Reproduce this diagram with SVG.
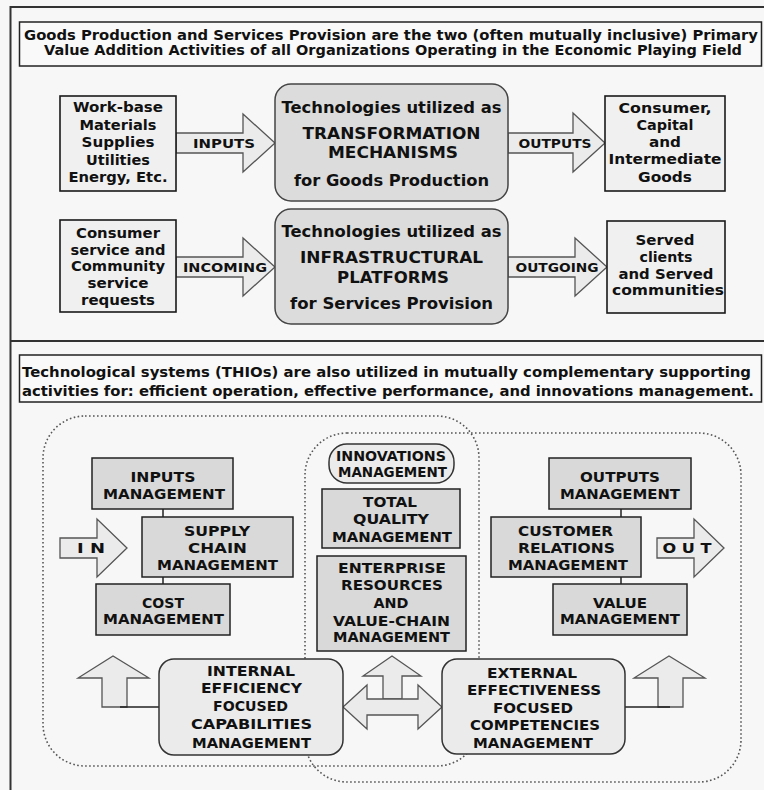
<svg xmlns="http://www.w3.org/2000/svg" width="764" height="790" viewBox="0 0 764 790">
<style>
.t{font-family:"DejaVu Sans",Verdana,sans-serif;font-weight:bold;fill:#111;text-anchor:middle}
.s12{font-size:12.5px}.s13{font-size:13.5px}.s14{font-size:14.5px}.s15{font-size:15.5px}.s16{font-size:16px}
.hdr{fill:#f9f9f9;stroke:#222;stroke-width:1.5}
.box{fill:#f0f0f0;stroke:#1a1a1a;stroke-width:1.6}
.tech{fill:#dcdcdc;stroke:#444;stroke-width:1.5}
.mg{fill:#d9d9d9;stroke:#222;stroke-width:1.5}
.rb{fill:#ebebeb;stroke:#333;stroke-width:1.5}
.arr{fill:#ebebeb;stroke:#555;stroke-width:1.3}
.dot{fill:none;stroke:#555;stroke-width:1.6;stroke-dasharray:1.6 2.4}
.ln{stroke:#222;stroke-width:1.5;fill:none}
</style>
<rect x="0" y="0" width="764" height="790" fill="#f7f7f7"/>
<rect x="10.5" y="7" width="800" height="820" fill="none" stroke="#333" stroke-width="2"/>
<line x1="10.5" y1="341" x2="764" y2="341" stroke="#333" stroke-width="2"/>

<g id="header1">
<rect class="hdr" x="19.5" y="22" width="742" height="44"/>
<text class="t s13" x="391" y="40" textLength="734" lengthAdjust="spacingAndGlyphs">Goods Production and Services Provision are the two (often mutually inclusive) Primary</text>
<text class="t s13" x="393" y="55" textLength="698" lengthAdjust="spacingAndGlyphs">Value Addition Activities of all Organizations Operating in the Economic Playing Field</text>
</g>

<g id="header2">
<rect class="hdr" x="19.5" y="355" width="742" height="47"/>
<text class="t s13" x="386.5" y="377" textLength="729" lengthAdjust="spacingAndGlyphs">Technological systems (THIOs) are also utilized in mutually complementary supporting</text>
<text class="t s13" x="388" y="396" textLength="732" lengthAdjust="spacingAndGlyphs">activities for: efficient operation, effective performance, and innovations management.</text>
</g>

<g id="dotted-regions">
<rect class="dot" x="43" y="416" width="436" height="350" rx="42"/>
<rect class="dot" x="305" y="433" width="436" height="349" rx="42"/>
</g>

<g id="connectors">
<polygon class="arr" points="176,133 243,133 243,114 275,143 243,172 243,153 176,153"/>
<polygon class="arr" points="508,133 573,133 573,113 605,143 573,172 573,153 508,153"/>
<polygon class="arr" points="176,257 243,257 243,238 275,267 243,296 243,277 176,277"/>
<polygon class="arr" points="508,257 575,257 575,238 607,267 575,296 575,277 508,277"/>
<polygon class="arr" points="60,538 97,538 97,519 127,548 97,577 97,558 60,558"/>
<polygon class="arr" points="657,538 694,538 694,519 724,548 694,577 694,558 657,558"/>
<polygon class="arr" points="102,707 102,678 78,678 113,656 149,678 127,678 127,707"/>
<polygon class="arr" points="658,707 658,678 634,678 669,656 705,678 683,678 683,707"/>
<polygon class="arr" points="383,699 383,676 363,676 392,656 421,676 402,676 402,699"/>
<polygon class="arr" points="343,707 367,685 367,699 418,699 418,685 442,707 418,729 418,715 367,715 367,729"/>
<line class="ln" x1="120" y1="707" x2="159" y2="707"/>
<line class="ln" x1="625" y1="707" x2="670" y2="707"/>
<line class="ln" x1="163" y1="509" x2="163" y2="517"/>
<line class="ln" x1="163" y1="577" x2="163" y2="584"/>
<line class="ln" x1="621" y1="509" x2="621" y2="517"/>
<line class="ln" x1="621" y1="577" x2="621" y2="584"/>
<text class="t s12" x="224" y="147.5" textLength="62" lengthAdjust="spacingAndGlyphs">INPUTS</text>
<text class="t s12" x="555" y="147.5" textLength="73" lengthAdjust="spacingAndGlyphs">OUTPUTS</text>
<text class="t s12" x="225" y="271.5" textLength="84" lengthAdjust="spacingAndGlyphs">INCOMING</text>
<text class="t s12" x="557" y="271.5" textLength="83" lengthAdjust="spacingAndGlyphs">OUTGOING</text>
<text class="t s14" x="91" y="553" textLength="28" lengthAdjust="spacingAndGlyphs">I N</text>
<text class="t s14" x="687" y="553" textLength="49" lengthAdjust="spacingAndGlyphs">O U T</text>
</g>

<g id="work-base">
<rect class="box" x="60" y="96" width="116" height="95"/>
<text class="t s14" x="118" y="112" textLength="90" lengthAdjust="spacingAndGlyphs">Work-base</text>
<text class="t s14" x="118" y="129.6" textLength="77" lengthAdjust="spacingAndGlyphs">Materials</text>
<text class="t s14" x="118" y="147.2" textLength="73" lengthAdjust="spacingAndGlyphs">Supplies</text>
<text class="t s14" x="118" y="164.8" textLength="64" lengthAdjust="spacingAndGlyphs">Utilities</text>
<text class="t s14" x="118" y="182.4" textLength="99" lengthAdjust="spacingAndGlyphs">Energy, Etc.</text>
</g>

<g id="transformation">
<rect class="tech" x="275" y="84" width="233" height="117" rx="16"/>
<text class="t s16" x="391.5" y="113" textLength="220" lengthAdjust="spacingAndGlyphs">Technologies utilized as</text>
<text class="t s15" x="391.5" y="139" textLength="178" lengthAdjust="spacingAndGlyphs">TRANSFORMATION</text>
<text class="t s15" x="393" y="158" textLength="130" lengthAdjust="spacingAndGlyphs">MECHANISMS</text>
<text class="t s16" x="391.5" y="186" textLength="195" lengthAdjust="spacingAndGlyphs">for Goods Production</text>
</g>

<g id="goods">
<rect class="box" x="605" y="96" width="120" height="95"/>
<text class="t s14" x="665" y="113" textLength="93" lengthAdjust="spacingAndGlyphs">Consumer,</text>
<text class="t s14" x="665" y="130" textLength="57" lengthAdjust="spacingAndGlyphs">Capital</text>
<text class="t s14" x="665" y="147" textLength="32" lengthAdjust="spacingAndGlyphs">and</text>
<text class="t s14" x="665" y="164" textLength="113" lengthAdjust="spacingAndGlyphs">Intermediate</text>
<text class="t s14" x="665" y="182" textLength="54" lengthAdjust="spacingAndGlyphs">Goods</text>
</g>

<g id="requests">
<rect class="box" x="60" y="220" width="116" height="92"/>
<text class="t s14" x="118" y="238" textLength="84" lengthAdjust="spacingAndGlyphs">Consumer</text>
<text class="t s14" x="118" y="254.5" textLength="95" lengthAdjust="spacingAndGlyphs">service and</text>
<text class="t s14" x="118" y="271" textLength="94" lengthAdjust="spacingAndGlyphs">Community</text>
<text class="t s14" x="118" y="288" textLength="61" lengthAdjust="spacingAndGlyphs">service</text>
<text class="t s14" x="118" y="305" textLength="74" lengthAdjust="spacingAndGlyphs">requests</text>
</g>

<g id="infrastructure">
<rect class="tech" x="275" y="209" width="233" height="115" rx="16"/>
<text class="t s16" x="391.5" y="237" textLength="220" lengthAdjust="spacingAndGlyphs">Technologies utilized as</text>
<text class="t s15" x="391.5" y="263" textLength="183" lengthAdjust="spacingAndGlyphs">INFRASTRUCTURAL</text>
<text class="t s15" x="393" y="283" textLength="112" lengthAdjust="spacingAndGlyphs">PLATFORMS</text>
<text class="t s16" x="391.5" y="309" textLength="203" lengthAdjust="spacingAndGlyphs">for Services Provision</text>
</g>

<g id="served">
<rect class="box" x="607" y="221" width="118" height="92"/>
<text class="t s14" x="665" y="245" textLength="59" lengthAdjust="spacingAndGlyphs">Served</text>
<text class="t s14" x="666" y="262" textLength="53" lengthAdjust="spacingAndGlyphs">clients</text>
<text class="t s14" x="666" y="278.5" textLength="95" lengthAdjust="spacingAndGlyphs">and Served</text>
<text class="t s14" x="668" y="295" textLength="112" lengthAdjust="spacingAndGlyphs">communities</text>
</g>

<g id="inputs-mgmt">
<rect class="mg" x="92" y="458" width="141" height="51"/>
<text class="t s14" x="163" y="482" textLength="65" lengthAdjust="spacingAndGlyphs">INPUTS</text>
<text class="t s14" x="164" y="499" textLength="122" lengthAdjust="spacingAndGlyphs">MANAGEMENT</text>
</g>
<g id="supply-chain">
<rect class="mg" x="142" y="517" width="151" height="60"/>
<text class="t s14" x="217" y="536" textLength="66" lengthAdjust="spacingAndGlyphs">SUPPLY</text>
<text class="t s14" x="217.5" y="553" textLength="59" lengthAdjust="spacingAndGlyphs">CHAIN</text>
<text class="t s14" x="217.5" y="569.5" textLength="121" lengthAdjust="spacingAndGlyphs">MANAGEMENT</text>
</g>
<g id="cost">
<rect class="mg" x="96" y="584" width="134" height="51"/>
<text class="t s14" x="163" y="608" textLength="42" lengthAdjust="spacingAndGlyphs">COST</text>
<text class="t s14" x="163.5" y="624" textLength="121" lengthAdjust="spacingAndGlyphs">MANAGEMENT</text>
</g>
<g id="innovations">
<rect class="rb" x="329" y="444" width="125" height="39" rx="18"/>
<text class="t s13" x="391" y="461" textLength="110" lengthAdjust="spacingAndGlyphs">INNOVATIONS</text>
<text class="t s13" x="392.5" y="476.5" textLength="109" lengthAdjust="spacingAndGlyphs">MANAGEMENT</text>
</g>
<g id="tqm">
<rect class="mg" x="322" y="489" width="138" height="59"/>
<text class="t s14" x="390" y="507" textLength="54" lengthAdjust="spacingAndGlyphs">TOTAL</text>
<text class="t s14" x="391" y="524" textLength="76" lengthAdjust="spacingAndGlyphs">QUALITY</text>
<text class="t s14" x="392" y="542" textLength="120" lengthAdjust="spacingAndGlyphs">MANAGEMENT</text>
</g>
<g id="erp">
<rect class="mg" x="317" y="556" width="149" height="95"/>
<text class="t s14" x="392" y="573" textLength="108" lengthAdjust="spacingAndGlyphs">ENTERPRISE</text>
<text class="t s14" x="392" y="590" textLength="102" lengthAdjust="spacingAndGlyphs">RESOURCES</text>
<text class="t s14" x="391" y="608" textLength="35" lengthAdjust="spacingAndGlyphs">AND</text>
<text class="t s14" x="391.5" y="626" textLength="117" lengthAdjust="spacingAndGlyphs">VALUE-CHAIN</text>
<text class="t s14" x="391.5" y="642" textLength="117" lengthAdjust="spacingAndGlyphs">MANAGEMENT</text>
</g>
<g id="outputs-mgmt">
<rect class="mg" x="549" y="458" width="142" height="51"/>
<text class="t s14" x="620" y="482" textLength="80" lengthAdjust="spacingAndGlyphs">OUTPUTS</text>
<text class="t s14" x="620" y="499" textLength="120" lengthAdjust="spacingAndGlyphs">MANAGEMENT</text>
</g>
<g id="crm">
<rect class="mg" x="491" y="517" width="150" height="60"/>
<text class="t s14" x="565.5" y="536" textLength="95" lengthAdjust="spacingAndGlyphs">CUSTOMER</text>
<text class="t s14" x="566.5" y="553" textLength="97" lengthAdjust="spacingAndGlyphs">RELATIONS</text>
<text class="t s14" x="568" y="569.5" textLength="120" lengthAdjust="spacingAndGlyphs">MANAGEMENT</text>
</g>
<g id="value">
<rect class="mg" x="553" y="584" width="134" height="51"/>
<text class="t s14" x="620" y="608" textLength="54" lengthAdjust="spacingAndGlyphs">VALUE</text>
<text class="t s14" x="620" y="624" textLength="120" lengthAdjust="spacingAndGlyphs">MANAGEMENT</text>
</g>
<g id="internal">
<rect class="rb" x="159" y="659" width="184" height="96" rx="15"/>
<text class="t s14" x="251" y="676" textLength="88" lengthAdjust="spacingAndGlyphs">INTERNAL</text>
<text class="t s14" x="251.5" y="693" textLength="101" lengthAdjust="spacingAndGlyphs">EFFICIENCY</text>
<text class="t s14" x="250.5" y="711" textLength="75" lengthAdjust="spacingAndGlyphs">FOCUSED</text>
<text class="t s14" x="251.5" y="729" textLength="121" lengthAdjust="spacingAndGlyphs">CAPABILITIES</text>
<text class="t s14" x="251.5" y="748" textLength="119" lengthAdjust="spacingAndGlyphs">MANAGEMENT</text>
</g>
<g id="external">
<rect class="rb" x="442" y="659" width="183" height="95" rx="15"/>
<text class="t s14" x="532" y="678" textLength="90" lengthAdjust="spacingAndGlyphs">EXTERNAL</text>
<text class="t s14" x="534" y="695" textLength="134" lengthAdjust="spacingAndGlyphs">EFFECTIVENESS</text>
<text class="t s14" x="533" y="713" textLength="80" lengthAdjust="spacingAndGlyphs">FOCUSED</text>
<text class="t s14" x="535" y="730" textLength="130" lengthAdjust="spacingAndGlyphs">COMPETENCIES</text>
<text class="t s14" x="533" y="748" textLength="120" lengthAdjust="spacingAndGlyphs">MANAGEMENT</text>
</g>
</svg>
